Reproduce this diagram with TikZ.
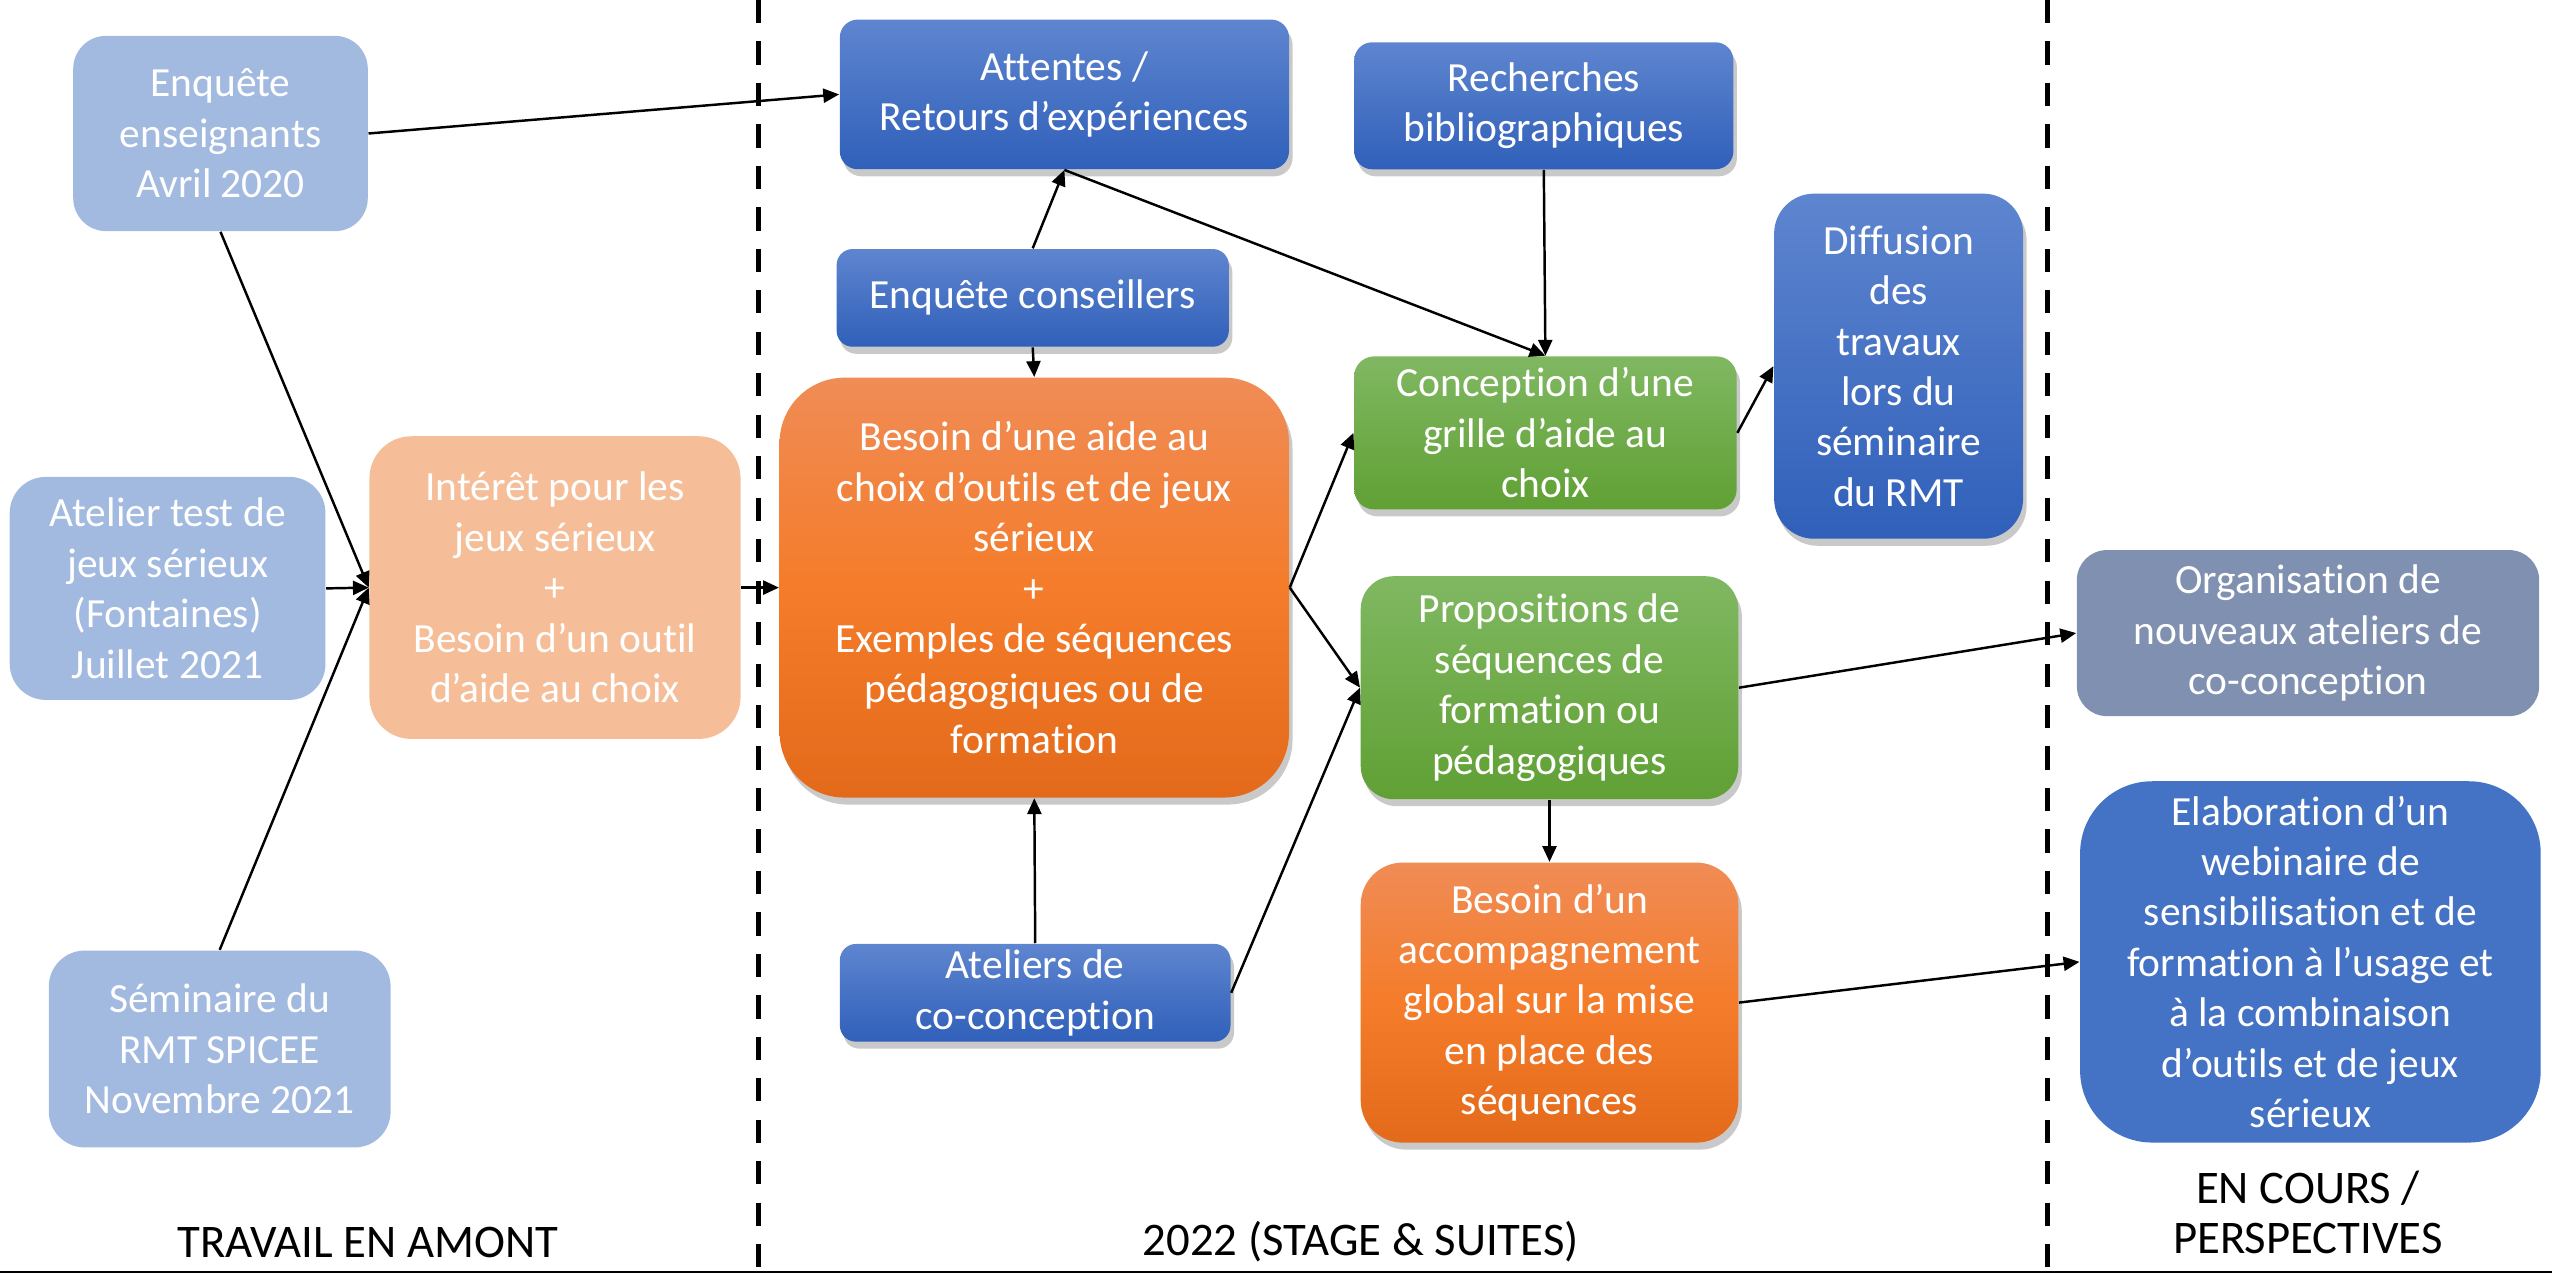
\documentclass[tikz,border=0pt]{standalone}
\usepackage{fontspec}
\setmainfont{Carlito}[Ligatures=NoCommon]
\usetikzlibrary{shadows,arrows.meta}

\definecolor{palebleu}{HTML}{A2B9E0}
\definecolor{palecorail}{HTML}{F5BE98}
\definecolor{bleuhaut}{HTML}{5E85CF}
\definecolor{bleubas}{HTML}{3060BA}
\definecolor{verthaut}{HTML}{80B862}
\definecolor{vertbas}{HTML}{60A034}
\definecolor{orangehaut}{HTML}{F08C56}
\definecolor{orangemilieu}{HTML}{F47C2A}
\definecolor{orangebas}{HTML}{E26A1A}
\definecolor{grisbleu}{HTML}{8090B0}
\definecolor{bleuplein}{HTML}{4472C4}

\begin{document}
\begin{tikzpicture}

\tikzset{boite/.style={rectangle,inner sep=1pt,align=center,text=white,font=\fontsize{11.8}{14.35}\selectfont},}
\tikzset{ombre/.style={drop shadow={shadow xshift=1pt,shadow yshift=-2pt,opacity=0.3,fill=black!70}},}
\tikzset{amont/.style={boite,fill=palebleu},}
\tikzset{besoinclair/.style={boite,fill=palecorail},}
\tikzset{bleu/.style={boite,ombre,top color=bleuhaut,bottom color=bleubas},}
\tikzset{vert/.style={boite,ombre,top color=verthaut,bottom color=vertbas},}
\tikzset{orange/.style={boite,ombre,top color=orangehaut,bottom color=orangebas,middle color=orangemilieu},}
\tikzset{titre/.style={align=center,font=\fontsize{13.3}{14.2}\selectfont},}
\tikzset{fleche/.style={-{Triangle[length=4.5pt,width=4pt]},line width=0.7pt},}

\useasboundingbox (0,0) rectangle (25.52,-12.74);

%COLONNES
\draw[line width=1.6pt,dash pattern=on 6.6pt off 5.2pt] (7.585,0) -- (7.585,-12.74);
\draw[line width=1.6pt,dash pattern=on 6.6pt off 5.2pt] (20.475,0) -- (20.475,-12.74);
\draw[line width=0.6pt] (0,-12.72) -- (25.52,-12.72);

\draw (3.678,-12.42) node [titre] (t1) {TRAVAIL EN AMONT};
\draw (13.607,-12.42) node [titre] (t2) {2022 (STAGE \& SUITES)};
\draw (23.08,-12.12) node [titre] (t3) {EN COURS /\\PERSPECTIVES};

%TRAVAIL EN AMONT
\draw (2.205,-1.335) node [amont,rounded corners=0.33cm,minimum width=2.946cm,minimum height=1.953cm] (enq) {Enquête\\enseignants\\Avril 2020};
\draw (1.676,-5.884) node [amont,rounded corners=0.36cm,minimum width=3.157cm,minimum height=2.23cm] (atelier) {Atelier test de\\jeux sérieux\\(Fontaines)\\Juillet 2021};
\draw (2.197,-10.49) node [amont,rounded corners=0.36cm,minimum width=3.418cm,minimum height=1.969cm] (semin) {Séminaire du\\RMT SPICEE\\Novembre 2021};
\draw (5.55,-5.876) node [besoinclair,rounded corners=0.42cm,minimum width=3.711cm,minimum height=3.027cm] (interet) {Intérêt pour les\\jeux sérieux\\+\\Besoin d’un outil\\d’aide au choix};

%STAGE
\draw (10.644,-0.944) node [bleu,rounded corners=0.18cm,minimum width=4.492cm,minimum height=1.497cm] (attentes) {Attentes /\\Retours d’expériences};
\draw (15.438,-1.058) node [bleu,rounded corners=0.18cm,minimum width=3.792cm,minimum height=1.27cm] (recherches) {Recherches\\bibliographiques};
\draw (10.327,-2.979) node [bleu,rounded corners=0.16cm,minimum width=3.922cm,minimum height=0.977cm] (enqcons) {Enquête conseillers};
\draw (10.343,-5.876) node [orange,rounded corners=0.65cm,minimum width=5.094cm,minimum height=4.199cm] (besoin) {Besoin d’une aide au\\choix d’outils et de jeux\\sérieux\\+\\Exemples de séquences\\pédagogiques ou de\\formation};
\draw (10.352,-9.928) node [bleu,rounded corners=0.16cm,minimum width=3.906cm,minimum height=0.977cm] (ateliers) {Ateliers de\\co-conception};
\draw (15.454,-4.329) node [vert,rounded corners=0.2cm,minimum width=3.825cm,minimum height=1.53cm] (conception) {Conception d’une\\grille d’aide au\\choix};
\draw (18.986,-3.662) node [bleu,rounded corners=0.4cm,minimum width=2.49cm,minimum height=3.451cm] (diffusion) {Diffusion\\des\\travaux\\lors du\\séminaire\\du RMT};
\draw (15.495,-6.877) node [vert,rounded corners=0.33cm,minimum width=3.776cm,minimum height=2.23cm] (propositions) {Propositions de\\séquences de\\formation ou\\pédagogiques};
\draw (15.495,-10.026) node [orange,rounded corners=0.42cm,minimum width=3.776cm,minimum height=2.8cm] (accomp) {Besoin d’un\\accompagnement\\global sur la mise\\en place des\\séquences};

%PERSPECTIVES
\draw (23.08,-6.331) node [boite,fill=grisbleu,rounded corners=0.3cm,minimum width=4.623cm,minimum height=1.66cm] (organisation) {Organisation de\\nouveaux ateliers de\\co-conception};
\draw (23.104,-9.619) node [boite,fill=bleuplein,rounded corners=0.72cm,minimum width=4.606cm,minimum height=3.613cm] (elaboration) {Elaboration d’un\\webinaire de\\sensibilisation et de\\formation à l’usage et\\à la combinaison\\d’outils et de jeux\\sérieux};

\draw[fleche] (enq.east) -- (attentes.west);
\draw[fleche] (enq.south) -- (interet.west);
\draw[fleche] (atelier.east) -- (interet.west);
\draw[fleche] (semin.north) -- (interet.west);
\draw[fleche] (interet.east) -- (besoin.west);
\draw[fleche] (enqcons.north) -- (attentes.south);
\draw[fleche] (enqcons.south) -- (besoin.north);
\draw[fleche] (attentes.south) -- (conception.north);
\draw[fleche] (recherches.south) -- (conception.north);
\draw[fleche] (besoin.east) -- (conception.west);
\draw[fleche] (besoin.east) -- (propositions.west);
\draw[fleche] (ateliers.east) -- (propositions.west);
\draw[fleche] (ateliers.north) -- (besoin.south);
\draw[fleche] (conception.east) -- (diffusion.west);
\draw[fleche] (propositions.east) -- (organisation.west);
\draw[fleche] (propositions.south) -- (accomp.north);
\draw[fleche] (accomp.east) -- (elaboration.west);

\end{tikzpicture}
\end{document}
